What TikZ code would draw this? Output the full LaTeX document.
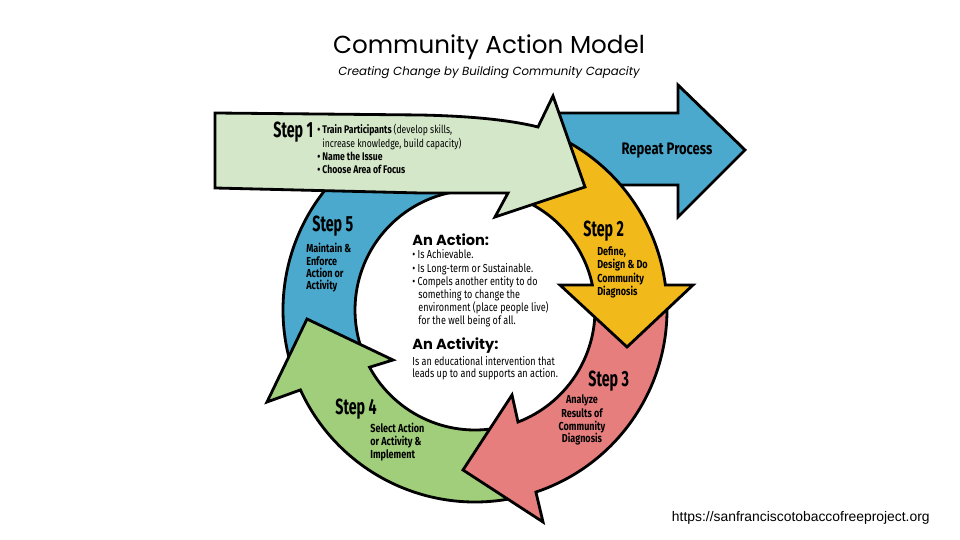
\documentclass[tikz,border=0pt]{standalone}
\usepackage{fontspec}
\setmainfont{Liberation Sans}
\newfontfamily\headfont{Poppins}
\newfontfamily\condfont[FakeStretch=0.65]{Fira Sans}
\newfontfamily\narrowfont[FakeStretch=0.78]{Fira Sans}
\usetikzlibrary{positioning}

\definecolor{stepgreen}{RGB}{212,231,201}
\definecolor{cycblue}{RGB}{74,169,204}
\definecolor{cycyellow}{RGB}{242,185,27}
\definecolor{cycpink}{RGB}{230,126,126}
\definecolor{cycgreen}{RGB}{160,206,122}

\begin{document}
\begin{tikzpicture}[x=0.02cm, y=0.02cm,
    part/.style={draw=black, line width=1.6pt},
    steplbl/.style={font=\condfont\bfseries\fontsize{12.5}{13}\selectfont, anchor=base west, inner sep=0pt},
    stepline/.style={font=\narrowfont\bfseries\fontsize{6.6}{7}\selectfont, anchor=west, inner sep=0pt, text height=1.4ex, text depth=0.2ex},
    bodyline/.style={font=\narrowfont\fontsize{6.6}{7}\selectfont, anchor=west, inner sep=0pt, text height=1.4ex, text depth=0.2ex},
    oneline/.style={font=\narrowfont\bfseries\fontsize{6.3}{7}\selectfont, anchor=west, inner sep=0pt, text height=1.4ex, text depth=0.2ex},
    headline/.style={font=\headfont\bfseries\fontsize{8.3}{9}\selectfont, anchor=west, inner sep=0pt, text height=1.4ex, text depth=0.2ex}
]

% canvas
\useasboundingbox (0,0) rectangle (960,540);
\fill[white] (0,0) rectangle (960,540);

% Title
\node[font=\headfont\fontsize{14}{16}\selectfont] (title) at (489,493) {Community Action Model};
\node[font=\headfont\itshape\fontsize{6.7}{8}\selectfont] (subtitle) at (489,467) {Creating Change by Building Community Capacity};

% Repeat Process arrow
\draw[part, fill=cycblue] (556,427) -- (678,427) -- (678,455) -- (745,390) -- (678,323) -- (678,355) -- (556,355) -- cycle;

% Cycle, centred on the ring
\begin{scope}[shift={(475,230)}]
% Step 5
\draw[part, fill=cycblue] (200:192) arc[start angle=200, end angle=98, radius=192] -- (98:120) arc[start angle=98, end angle=200, radius=120] -- cycle;
% Step 4
\draw[part, fill=cycgreen] (-76:192) arc[start angle=-76, end angle=-155.4, radius=192] -- (-208,-92) -- (-168,-9) -- (-82,-50) -- (-151.5:120) arc[start angle=-151.5, end angle=-76, radius=120] -- cycle;
% Step 3
\draw[part, fill=cycpink] (2:192) arc[start angle=2, end angle=-71.5, radius=192] -- (68,-212) -- (-12,-160) -- (37,-85) -- (-69:120) arc[start angle=-69, end angle=2, radius=120] -- cycle;
% Step 2
\draw[part, fill=cycyellow] (70:192) arc[start angle=70, end angle=7.5, radius=192] -- (218,25) -- (152,-37) -- (85,25) -- (12:120) arc[start angle=12, end angle=70, radius=120] -- cycle;
\end{scope}

% Step 1 arrow
\draw[part, fill=stepgreen] (215,427) -- (420,425) .. controls (470,424) and (510,420) .. (538,413) -- (553,444) -- (585,353) -- (495,323) -- (508,347) .. controls (470,347) and (440,347) .. (420,347) -- (215,352) -- cycle;

% Step 1 text
\node[steplbl] (step1) at (273,402) {Step 1};
\node[oneline] (s1a) at (317,412) {\textbullet\ Train Participants \mdseries(develop skills,};
\node[oneline, font=\narrowfont\fontsize{6.3}{7}\selectfont] (s1b) at (322,398) {increase knowledge, build capacity)};
\node[oneline] (s1c) at (317,385) {\textbullet\ Name the Issue};
\node[oneline] (s1d) at (317,372) {\textbullet\ Choose Area of Focus};

% Repeat
\node[font=\narrowfont\bfseries\fontsize{9.5}{10}\selectfont] (repeat) at (667,389) {Repeat Process};

% Step 2 text
\node[steplbl] (step2) at (583,303) {Step 2};
\node[stepline] (s2a) at (597,290) {Define,};
\node[stepline] (s2b) at (597,277) {Design \& Do};
\node[stepline] (s2c) at (597,263) {Community};
\node[stepline] (s2d) at (597,250) {Diagnosis};

% Step 3 text
\node[steplbl] (step3) at (588,153) {Step 3};
\node[stepline, anchor=center] (s3a) at (582,142) {Analyze};
\node[stepline, anchor=center] (s3b) at (582,128) {Results of};
\node[stepline, anchor=center] (s3c) at (582,115) {Community};
\node[stepline, anchor=center] (s3d) at (582,103) {Diagnosis};

% Step 4 text
\node[steplbl] (step4) at (335,125) {Step 4};
\node[stepline] (s4a) at (370,113) {Select Action};
\node[stepline] (s4b) at (370,100) {or Activity \&};
\node[stepline] (s4c) at (370,87) {Implement};

% Step 5 text
\node[steplbl] (step5) at (312,308) {Step 5};
\node[stepline] (s5a) at (306,293) {Maintain \&};
\node[stepline] (s5b) at (306,280) {Enforce};
\node[stepline] (s5c) at (306,268) {Action or};
\node[stepline] (s5d) at (306,256) {Activity};

% Centre text
\node[headline] (action) at (412,300) {An Action:};
\node[bodyline] (a1) at (412,287) {\textbullet\ Is Achievable.};
\node[bodyline] (a2) at (412,273.5) {\textbullet\ Is Long-term or Sustainable.};
\node[bodyline] (a3) at (412,260) {\textbullet\ Compels another entity to do};
\node[bodyline] (a4) at (418,247) {something to change the};
\node[bodyline] (a5) at (418,234) {environment (place people live)};
\node[bodyline] (a6) at (418,221) {for the well being of all.};
\node[headline] (activity) at (412,196) {An Activity:};
\node[bodyline] (b1) at (412,180) {Is an educational intervention that};
\node[bodyline] (b2) at (412,168) {leads up to and supports an action.};

% Source
\node[font=\fontsize{7.9}{8}\selectfont, anchor=east, inner sep=0pt] (url) at (930,22) {https://sanfranciscotobaccofreeproject.org};

\end{tikzpicture}
\end{document}
